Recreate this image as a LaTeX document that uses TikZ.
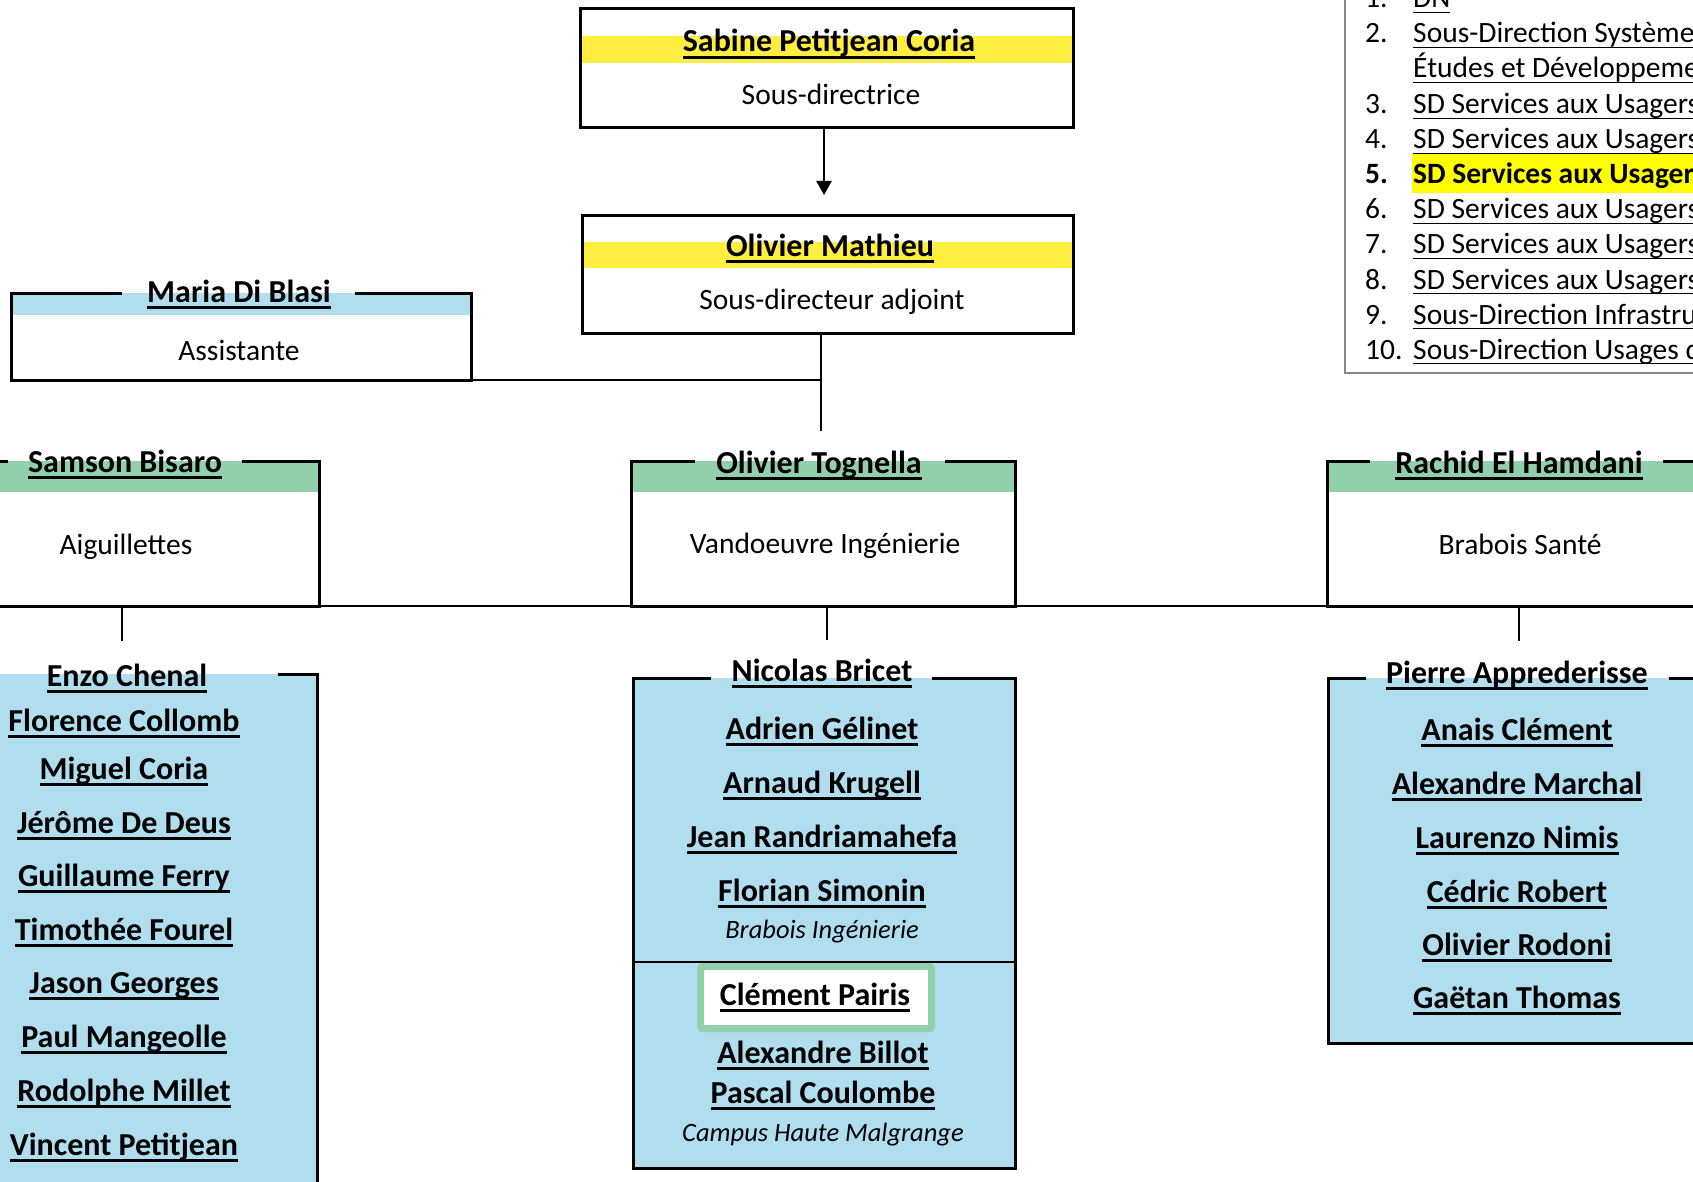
\documentclass[tikz,border=0pt]{standalone}
\usepackage{fontspec}
\setmainfont{Carlito}
\usetikzlibrary{arrows.meta}
\definecolor{hdyellow}{RGB}{255,237,64}
\definecolor{hlyellow}{RGB}{255,255,0}
\definecolor{lblue}{RGB}{176,222,238}
\definecolor{lgreen}{RGB}{146,208,172}
\definecolor{lgray}{RGB}{135,135,135}
\newsavebox\ulbox
\newcommand{\ulname}[1]{\sbox\ulbox{#1}\rlap{\rule[-0.215em]{\wd\ulbox}{0.08em}}\usebox\ulbox}
\newcommand{\ullink}[1]{\sbox\ulbox{#1}\rlap{\rule[-0.18em]{\wd\ulbox}{0.055em}}\usebox\ulbox}
\newcommand{\fnm}{\fontsize{32}{38}\selectfont\bfseries}
\newcommand{\frg}{\fontsize{29.5}{35}\selectfont}
\newcommand{\fit}{\fontsize{26.5}{32}\selectfont\itshape}
\begin{document}
\begin{tikzpicture}[x=1pt,y=-1pt,line join=miter,
  nm/.style={anchor=base,inner sep=0pt,font=\fnm},
  rg/.style={anchor=base,inner sep=0pt,font=\frg},
  it/.style={anchor=base,inner sep=0pt,font=\fit},
  lg/.style={anchor=base west,inner sep=0pt,font=\frg},
  boxn/.style={inner sep=0pt,outer sep=0pt,draw=none},
  bd/.style={line width=3pt},
  cn/.style={line width=1.6pt},
]
\useasboundingbox (0,0) rectangle (1693,1182);
\clip (0,0) rectangle (1693,1182);

% ---------- legend ----------
\fill[hlyellow] (1412,154) rectangle (1700,193);
\draw[lgray,line width=1.5pt] (1345,-10) -- (1345,373) -- (1700,373);
\node[lg] (n1) at (1365,8) {1.};
\node[lg] (l1) at (1413,8) {\ullink{DN}};
\node[lg] (n2) at (1365,43) {2.};
\node[lg] (l2) at (1413,43) {\ullink{Sous-Direction Système}};
\node[lg] (l2b) at (1413,78) {\ullink{Études et Développeme}};
\node[lg] (n3) at (1365,114) {3.};
\node[lg] (l3) at (1413,114) {\ullink{SD Services aux Usagers}};
\node[lg] (n4) at (1365,149) {4.};
\node[lg] (l4) at (1413,149) {\ullink{SD Services aux Usagers}};
\node[lg,font=\frg\bfseries] (n5) at (1365,184) {5.};
\node[lg,font=\frg\bfseries] (l5) at (1413,184) {SD Services aux Usagers};
\node[lg] (n6) at (1365,219) {6.};
\node[lg] (l6) at (1413,219) {\ullink{SD Services aux Usagers}};
\node[lg] (n7) at (1365,254) {7.};
\node[lg] (l7) at (1413,254) {\ullink{SD Services aux Usagers}};
\node[lg] (n8) at (1365,289) {8.};
\node[lg] (l8) at (1413,289) {\ullink{SD Services aux Usagers}};
\node[lg] (n9) at (1365,324) {9.};
\node[lg] (l9) at (1413,324) {\ullink{Sous-Direction Infrastru}};
\node[lg] (n10) at (1365,359) {10.};
\node[lg] (l10) at (1413,359) {\ullink{Sous-Direction Usages d}};

% ---------- top boxes ----------
\fill[hdyellow] (581.5,36) rectangle (1071.5,63);
\node[boxn,draw,bd,minimum width=493pt,minimum height=119pt] (sabbox) at (826.5,68.5) {};
\node[nm] (sabine) at (829,52) {\ulname{Sabine Petitjean Coria}};
\node[rg] (sabrole) at (831,105) {Sous-directrice};

\fill[hdyellow] (583.5,242) rectangle (1071.5,268);
\node[boxn,draw,bd,minimum width=491pt,minimum height=117pt] (matbox) at (827.5,274.5) {};
\node[nm] (mathieu) at (830,256) {\ulname{Olivier Mathieu}};
\node[rg] (matrole) at (832,309) {Sous-directeur adjoint};

\draw[line width=2pt,-{Triangle[length=14pt,width=15pt]},shorten >=21pt]
  ([xshift=-2.5pt]sabbox.south) -- ([xshift=-2.5pt]sabbox.south |- matbox.north);

% ---------- assistant ----------
\node[boxn,minimum width=460pt,minimum height=87pt] (mariabox) at (241,336.5) {};
\fill[lblue] (11,293) rectangle (471,315);
\draw[bd] (122,293) -- (11,293) -- (11,380) -- (471,380) -- (471,293) -- (355,293);
\node[nm] (maria) at (239,302) {\ulname{Maria Di Blasi}};
\node[rg] (mariarole) at (239,360) {Assistante};

\draw[cn] ([xshift=-6.5pt]matbox.south) -- ++(0,98) coordinate (mend);
\draw[cn] (mariabox.south east) -- (mariabox.south east -| mend);

% ---------- level 2 ----------
\node[boxn,minimum width=384pt,minimum height=145pt] (samsonbox) at (127,533.5) {};
\node[boxn,minimum width=384pt,minimum height=145pt] (tognbox) at (823,533.5) {};
\node[boxn,minimum width=384pt,minimum height=145pt] (rachbox) at (1519,533.5) {};

\fill[lgreen] (-65,461) rectangle (319,492);
\fill[lgreen] (631,461) rectangle (1015,492);
\fill[lgreen] (1327,461) rectangle (1711,492);

\draw[cn] (samsonbox.south west) -- (rachbox.south east);

\draw[bd] (8,461) -- (-65,461) -- (-65,606) -- (319,606) -- (319,461) -- (242,461);
\draw[bd] (695,461) -- (631,461) -- (631,606) -- (1015,606) -- (1015,461) -- (945,461);
\draw[bd] (1370,461) -- (1327,461) -- (1327,606) -- (1711,606) -- (1711,461) -- (1663,461);

\node[nm] (samson) at (125,472) {\ulname{Samson Bisaro}};
\node[rg] (samrole) at (126,554) {Aiguillettes};
\node[nm] (tognella) at (819,473) {\ulname{Olivier Tognella}};
\node[rg] (togrole) at (825,553) {Vandoeuvre Ingénierie};
\node[nm] (rachid) at (1519,473) {\ulname{Rachid El Hamdani}};
\node[rg] (rachrole) at (1520,554) {Brabois Santé};

\draw[cn] ([xshift=-5pt]samsonbox.south) -- ++(0,35);
\draw[cn] ([xshift=4pt]tognbox.south) -- ++(0,34);
\draw[cn] (rachbox.south) -- ++(0,35);

% ---------- level 3 ----------
\fill[lblue] (-67,674) rectangle (317,1200);
\draw[bd] (278,674) -- (317,674) -- (317,1200);
\node[nm] (enzo) at (127,686) {\ulname{Enzo Chenal}};
\node[nm] (florence) at (124,731) {\ulname{Florence Collomb}};
\node[nm] (miguel) at (124,779) {\ulname{Miguel Coria}};
\node[nm] (jerome) at (124,833) {\ulname{Jérôme De Deus}};
\node[nm] (guillaume) at (124,886) {\ulname{Guillaume Ferry}};
\node[nm] (timothee) at (124,940) {\ulname{Timothée Fourel}};
\node[nm] (jason) at (124,993) {\ulname{Jason Georges}};
\node[nm] (paul) at (124,1047) {\ulname{Paul Mangeolle}};
\node[nm] (rodolphe) at (124,1101) {\ulname{Rodolphe Millet}};
\node[nm] (vincent) at (124,1155) {\ulname{Vincent Petitjean}};

\fill[lblue] (633,678) rectangle (1015,1168);
\draw[bd] (711,678) -- (633,678) -- (633,1168) -- (1015,1168) -- (1015,678) -- (932,678);
\draw[line width=2pt] (633,962) -- (1015,962);
\node[nm] (nicolas) at (822,681) {\ulname{Nicolas Bricet}};
\node[nm] (adrien) at (822,739) {\ulname{Adrien Gélinet}};
\node[nm] (arnaud) at (822,793) {\ulname{Arnaud Krugell}};
\node[nm] (jean) at (822,847) {\ulname{Jean Randriamahefa}};
\node[nm] (florian) at (822,901) {\ulname{Florian Simonin}};
\node[it] (brabing) at (822,938) {Brabois Ingénierie};
\draw[line width=7pt,lgreen,fill=white,rounded corners=2pt] (700.5,966.5) rectangle (931.5,1028.5);
\node[nm] (clement) at (815,1005) {\ulname{Clément Pairis}};
\node[nm] (alexb) at (823,1063) {\ulname{Alexandre Billot}};
\node[nm] (pascal) at (823,1103) {\ulname{Pascal Coulombe}};
\node[it] (campus) at (823,1141) {Campus Haute Malgrange};

\fill[lblue] (1328,678) rectangle (1712,1043);
\draw[bd] (1366,678) -- (1328,678) -- (1328,1043) -- (1712,1043) -- (1712,678) -- (1669,678);
\node[nm] (pierre) at (1517,683) {\ulname{Pierre Apprederisse}};
\node[nm] (anais) at (1517,740) {\ulname{Anais Clément}};
\node[nm] (alexm) at (1517,794) {\ulname{Alexandre Marchal}};
\node[nm] (laurenzo) at (1517,848) {\ulname{Laurenzo Nimis}};
\node[nm] (cedric) at (1517,902) {\ulname{Cédric Robert}};
\node[nm] (olivierr) at (1517,955) {\ulname{Olivier Rodoni}};
\node[nm] (gaetan) at (1517,1008) {\ulname{Gaëtan Thomas}};
\end{tikzpicture}
\end{document}
